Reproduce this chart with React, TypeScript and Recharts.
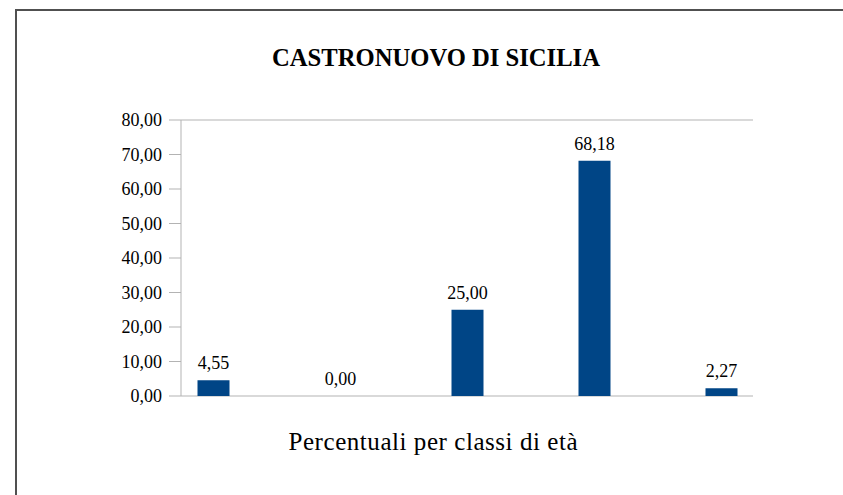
import { BarChart, Bar, XAxis, YAxis, CartesianGrid, LabelList } from "recharts";

// Age classes (no tick labels are printed on the original chart)
const classes = ["1", "2", "3", "4", "5"];
const percentuali = [4.55, 0.0, 25.0, 68.18, 2.27];
const yTicks = [0, 10, 20, 30, 40, 50, 60, 70, 80];

const TITLE = "CASTRONUOVO DI SICILIA";
const X_TITLE = "Percentuali per classi di età";

const BAR_COLOR = "#004586";
const GRID = "#b3b3b3";
const FONT = "'Liberation Serif', 'Times New Roman', serif";

const data = classes.map((c, i) => ({ classe: c, valore: percentuali[i] }));

const fmt = (v: number | string) => Number(v).toFixed(2).replace(".", ",");

export default function App() {
  return (
    <div
      style={{
        position: "absolute",
        left: 0,
        top: 0,
        width: 843,
        height: 495,
        background: "#fff",
        overflow: "hidden",
        fontFamily: FONT,
      }}
    >
      <style>{`.recharts-wrapper text { font-family: 'Liberation Serif', 'Times New Roman', serif !important; }`}</style>

      {/* outer frame: only top and left edges are visible */}
      <div
        style={{
          position: "absolute",
          left: 15,
          top: 9,
          width: 843,
          height: 495,
          borderLeft: "2px solid #505050",
          borderTop: "2px solid #505050",
        }}
      />

      <BarChart
        width={843}
        height={495}
        data={data}
        margin={{ top: 120, right: 90, bottom: 99, left: 0 }}
        style={{ position: "absolute", left: 0, top: 0 }}
      >
        <CartesianGrid vertical={false} stroke={GRID} strokeWidth={1} />
        <XAxis
          dataKey="classe"
          height={0}
          tick={false}
          tickLine={false}
          axisLine={{ stroke: GRID }}
          padding={{ left: -31.5, right: -31.5 }}
        />
        <YAxis
          yAxisId="left"
          width={181}
          domain={[0, 80]}
          ticks={yTicks}
          tickFormatter={fmt}
          tickSize={12}
          tickMargin={7}
          tickLine={{ stroke: GRID }}
          axisLine={{ stroke: GRID }}
          tick={{ fill: "#000", fontSize: 18, fontFamily: FONT }}
        />
        <YAxis
          yAxisId="right"
          orientation="right"
          width={0}
          domain={[0, 80]}
          tick={false}
          tickLine={false}
          axisLine={{ stroke: GRID }}
        />
        <Bar
          yAxisId="left"
          dataKey="valore"
          fill={BAR_COLOR}
          barSize={32}
          minPointSize={0.01}
          isAnimationActive={false}
        >
          <LabelList
            dataKey="valore"
            position="top"
            offset={11}
            formatter={fmt}
            fill="#000"
            fontSize={18}
            fontFamily={FONT}
          />
        </Bar>
      </BarChart>

      <svg
        width={843}
        height={495}
        style={{ position: "absolute", left: 0, top: 0, pointerEvents: "none" }}
      >
        <text
          x={436}
          y={66}
          textAnchor="middle"
          fontFamily={FONT}
          fontWeight="bold"
          fontSize={26}
          textLength={328}
          lengthAdjust="spacingAndGlyphs"
          fill="#000"
        >
          {TITLE}
        </text>
        <text
          x={433}
          y={450}
          textAnchor="middle"
          fontFamily={FONT}
          fontSize={25}
          textLength={289}
          lengthAdjust="spacing"
          fill="#000"
        >
          {X_TITLE}
        </text>
      </svg>
    </div>
  );
}
